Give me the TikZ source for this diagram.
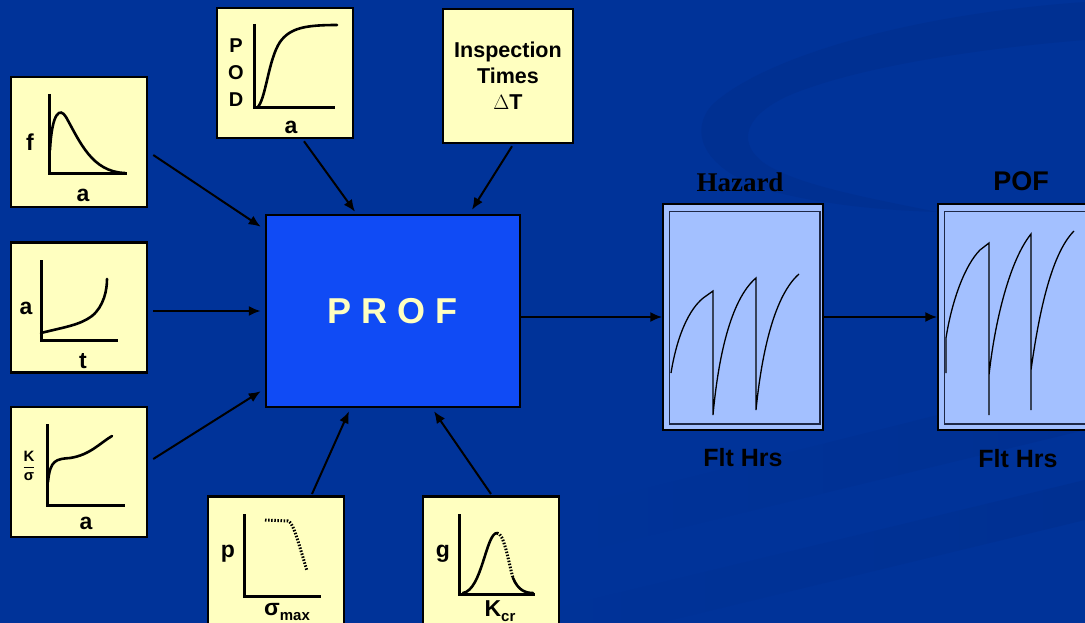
\documentclass[tikz,border=0pt]{standalone}
\usepackage{amsmath}
\usepackage{fontspec}
\setmainfont{Liberation Sans}
\newfontfamily\timesfont{Liberation Serif}
\usetikzlibrary{arrows.meta, positioning}
\definecolor{slide}{RGB}{0,51,153}
\definecolor{swoosh}{RGB}{0,48,146}
\definecolor{note}{RGB}{255,255,192}
\definecolor{core}{RGB}{16,75,245}
\definecolor{plot}{RGB}{163,192,255}
\definecolor{frame}{RGB}{30,40,70}
\tikzset{>={Latex[length=12pt,width=10pt]},
    inbox/.style={draw, line width=2.5pt, fill=note, inner sep=0pt,
        minimum width=136pt, minimum height=130pt},
    corebox/.style={draw, line width=2.5pt, fill=core, inner sep=0pt,
        minimum width=254pt, minimum height=192pt, text=note,
        font=\fontsize{36}{36}\selectfont\bfseries},
    outbox/.style={draw, line width=1.5pt, fill=plot, inner sep=0pt,
        minimum width=160pt, minimum height=226pt},
    feed/.style={->, line width=2pt},
    axis/.style={line width=3pt},
    curve/.style={line width=2.6pt, line cap=round},
    dotcurve/.style={line width=3pt, dash pattern=on 1.5pt off 1.6pt},
    trace/.style={line width=1.3pt},
    lab/.style={inner sep=0pt, font=\fontsize{23}{23}\selectfont\bfseries},
    small/.style={inner sep=0pt, font=\fontsize{20}{27}\selectfont\bfseries, align=center},
    caption/.style={inner sep=0pt, font=\fontsize{25}{25}\selectfont\bfseries}}

\begin{document}
\begin{tikzpicture}[x=1pt,y=-1pt,font=\bfseries]
\clip (0,0) rectangle (1085,623);
\fill[slide] (0,0) rectangle (1085,623);
% background swooshes
\fill[swoosh] (1085,2) .. controls (900,15) and (760,60) .. (712,105)
    .. controls (690,130) and (700,165) .. (760,188)
    .. controls (820,205) and (880,210) .. (937,212)
    .. controls (880,200) and (790,185) .. (760,160)
    .. controls (738,140) and (745,115) .. (790,95)
    .. controls (850,70) and (960,50) .. (1085,40) -- cycle;
\shade[left color=slide, right color=swoosh] (560,510) -- (1085,378) -- (1085,430) -- (560,557) -- cycle;
\shade[left color=slide, right color=swoosh] (494,623) -- (1085,480) -- (1085,520) -- (659,623) -- cycle;

% input boxes
\node[inbox] (fbox) at (79,142) {};
\node[inbox, below of=fbox, node distance=165.5pt] (atbox) {};
\node[inbox, below of=atbox, node distance=164.5pt] (ksbox) {};
\node[inbox] (podbox) at (285,73) {};
\node[inbox, minimum width=130pt, minimum height=134pt, small,
    font=\fontsize{21.5}{26}\selectfont\bfseries] (inspbox) at (508,76)
    {Inspection\\Times\\$\Delta$T};
\node[inbox, anchor=north, minimum height=150pt] (pbox) at (276,495) {};
\node[inbox, anchor=north, minimum height=150pt] (gbox) at (491,495) {};

% crack size density
\draw[axis] (49,94) -- (49,174) -- (127,174);
\draw[curve] (50,150) .. controls (52,112) and (60,107) .. (66,117)
    .. controls (80,142) and (92,172) .. (125,173);
\node[lab] (fname) at (30,142) {f};
\node[lab] (fsize) at (83,195) {a};
% crack growth
\draw[axis] (41,260) -- (41,340) -- (118,340);
\draw[curve] (41,333) .. controls (65,327) and (80,325) .. (92,316)
    .. controls (104,306) and (107,290) .. (107,279);
\node[lab] (atsize) at (26,308) {a};
\node[lab] (attime) at (83,361) {t};
% stress intensity
\draw[axis] (47,424) -- (47,505) -- (125,505);
\draw[curve] (48,482) .. controls (50,460) and (56,459) .. (70,458)
    .. controls (90,455) and (100,443) .. (112,436);
\node[inner sep=0pt, font=\fontsize{15}{15}\selectfont\bfseries] (ksname) at (29,466)
    {$\dfrac{\text{K}}{\text{σ}}$};
\node[lab] (kssize) at (86,523) {a};
% detection
\draw[axis] (254,24) -- (254,108) -- (335,108);
\draw[curve] (257,108) .. controls (266,100) and (268,60) .. (280,42)
    .. controls (290,28) and (305,25) .. (337,25);
\node[small] (podname) at (236,73) {P\\O\\D};
\node[lab] (podsize) at (291,127) {a};
% max stress
\draw[axis] (244,514) -- (244,596) -- (321,596);
\draw[dotcurve] (265,520) -- (288,521) .. controls (292,522) and (295,530) .. (307,571);
\node[lab] (pname) at (228,554) {p};
\node[lab] (pstress) at (287,612) {σ\raisebox{-5pt}{\fontsize{15}{15}\selectfont max}};
% toughness
\draw[axis] (459,514) -- (459,594) -- (535,594);
\draw[curve] (463,593) .. controls (482,590) and (486,533) .. (497,533);
\draw[dotcurve] (497,533) .. controls (504,533) and (508,560) .. (513,578);
\draw[curve] (513,578) .. controls (518,590) and (525,593) .. (533,593);
\node[lab] (gname) at (443,554) {g};
\node[lab] (gtough) at (500,611) {K\raisebox{-5pt}{\fontsize{15}{15}\selectfont cr}};

% core
\node[corebox] (prof) at (393,311) {P R O F};

% outputs
\node[outbox] (hazard) at (743,317) {};
\node[outbox, right of=hazard, node distance=275pt] (pof) {};
\foreach \b in {hazard,pof}
    \draw[line width=1.5pt, draw=frame] ([shift={(7,8)}]\b.north west) rectangle ([shift={(-4,-7)}]\b.south east);
\draw[trace] (671,373) .. controls (678,330) and (692,305) .. (706,296) -- (713,291)
    -- (713,415) .. controls (718,360) and (730,300) .. (756,278)
    -- (756,410) .. controls (762,350) and (775,295) .. (799,274);
\draw[trace] (946,373) -- (946,338) .. controls (952,300) and (965,265) .. (980,250) -- (989,243)
    -- (989,415) -- (989,375) .. controls (995,320) and (1010,260) .. (1031,234)
    -- (1031,410) -- (1031,370) .. controls (1038,320) and (1050,255) .. (1074,231);
\node[inner sep=0pt, font=\timesfont\bfseries\fontsize{27}{27}\selectfont] (hazardtitle) at (740,182) {Hazard};
\node[caption, font=\fontsize{27}{27}\selectfont\bfseries] (poftitle) at (1021,181) {POF};
\node[caption] (hazardtime) at (743,458) {Flt Hrs};
\node[caption] (poftime) at (1018,459) {Flt Hrs};

% connectors
\draw[feed] ([shift={(5,13)}]fbox.east) -- ([shift={(-4,13)}]prof.north west);
\draw[feed] ([shift={(5,3.5)}]atbox.east) -- ([xshift=-4]prof.west);
\draw[feed] ([shift={(5,-13)}]ksbox.east) -- ([shift={(-4,-17)}]prof.south west);
\draw[feed] ([shift={(19,2)}]podbox.south) -- ([shift={(-38,-2)}]prof.north);
\draw[feed] ([shift={(4,2)}]inspbox.south) -- ([shift={(79,-4)}]prof.north);
\draw[feed] ([shift={(36,-1)}]pbox.north) -- ([shift={(-44,3)}]prof.south);
\draw[feed] ([shift={(0,-1)}]gbox.north) -- ([shift={(41,3)}]prof.south);
\draw[feed] (prof.east |- hazard.west) -- (hazard.west);
\draw[feed] (hazard.east) -- (pof.west);
\end{tikzpicture}
\end{document}
